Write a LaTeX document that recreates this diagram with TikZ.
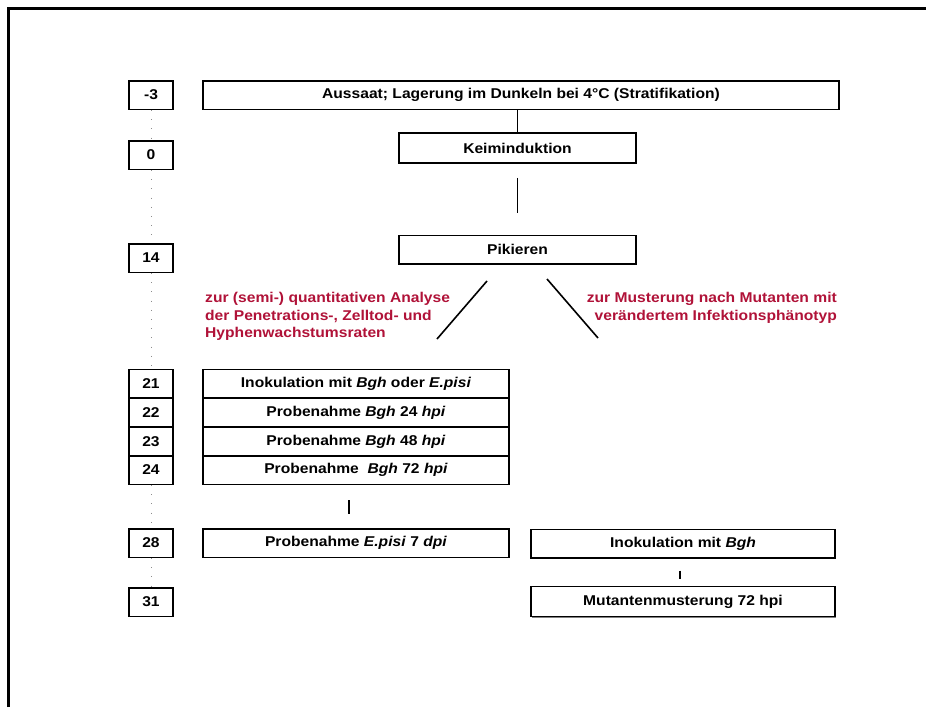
\documentclass[tikz,border=0pt]{standalone}
\usepackage{fontspec}
\setmainfont{Liberation Sans}[FakeStretch=1.1]
\usetikzlibrary{shadows}
\definecolor{noteRed}{RGB}{176,18,56}

\begin{document}
\begin{tikzpicture}[x=1pt, y=-1pt, font=\fontsize{14.2}{17}\selectfont\bfseries,
  daybox/.style={draw, line width=1.5pt, fill=white, inner sep=0pt,
    minimum width=44pt, minimum height=28.5pt,
    drop shadow={shadow xshift=1.2pt, shadow yshift=-1.2pt, fill=black!50, opacity=1}},
  stepbox/.style={daybox, minimum width=#1},
  link/.style={line width=1.6pt},
  dayline/.style={black!45, line width=0.6pt, dash pattern=on 0.7pt off 8.5pt},
  note/.style={text=noteRed, inner sep=0pt, font=\fontsize{14.2}{17.5}\selectfont\bfseries}]
  \useasboundingbox (0,0) rectangle (926,707);
  % frame
  \draw[line width=3pt] (8,707) -- (8,8) -- (926,8);
  % ---------------------------------------------------------------- days
  \node[daybox] (dm3) at (151,95)    {-3};
  \node[daybox] (d0)  at (151,155)   {0};
  \node[daybox] (d14) at (151,258)   {14};
  \node[daybox] (d21) at (151,383.5) {21};
  \node[daybox] (d22) at (151,412.5) {22};
  \node[daybox] (d23) at (151,441.5) {23};
  \node[daybox] (d24) at (151,470)   {24};
  \node[daybox] (d28) at (151,543)   {28};
  \node[daybox] (d31) at (151,602)   {31};
  \draw[dayline] (dm3) -- (d0);
  \draw[dayline] (d0) -- (d14);
  \draw[dayline] (d14) -- (d21);
  \draw[dayline] (d24) -- (d28);
  \draw[dayline] (d28) -- (d31);
  % ---------------------------------------------------------------- seeds
  \node[stepbox=636pt] (aus)  at (521,95)    {Aussaat; Lagerung im Dunkeln bei 4°C (Stratifikation)};
  \node[stepbox=237pt, minimum height=30pt] (keim) at (517.5,148) {Keiminduktion};
  \node[stepbox=237pt] (pik)  at (517.5,249.5) {Pikieren};
  \draw[link] (keim.north) -- (keim.north |- aus.south);
  \draw[link, shorten <=14pt, shorten >=22pt] (keim.south) -- (pik.north);
  % the two branches
  \coordinate (lefttop) at (487,281);
  \coordinate (leftend) at (437,339);
  \coordinate (righttop) at (547,279);
  \coordinate (rightend) at (598,338);
  \draw[link] (lefttop) -- (leftend);
  \draw[link] (righttop) -- (rightend);
  \node[note, anchor=north west, align=left] (quant) at (205,292.5)
    {zur (semi-) quantitativen Analyse\\der Penetrations-, Zelltod- und\\Hyphenwachstumsraten};
  \node[note, anchor=north east, align=right] (screen) at (837,292.5)
    {zur Musterung nach Mutanten mit\\verändertem Infektionsphänotyp};
  % ---------------------------------------------------------------- (semi-) quantitative branch
  \node[stepbox=306pt] (ino)  at (356,383.5) {Inokulation mit \textit{Bgh} oder \textit{E.pisi}};
  \node[stepbox=306pt] (p24)  at (356,412.5) {Probenahme \textit{Bgh} 24 \textit{hpi}};
  \node[stepbox=306pt] (p48)  at (356,441.5) {Probenahme \textit{Bgh} 48 \textit{hpi}};
  \node[stepbox=306pt] (p72)  at (356,470)   {Probenahme \ \textit{Bgh} 72 \textit{hpi}};
  \node[stepbox=306pt] (pep)  at (356,543)   {Probenahme \textit{E.pisi} 7 \textit{dpi}};
  \draw[link, shorten <=15pt, shorten >=14pt] ([xshift=-7pt]p72.south) -- ([xshift=-7pt]pep.north);
  % ---------------------------------------------------------------- mutant screen
  \node[stepbox=304pt] (inoR) at (683,543.5) {Inokulation mit \textit{Bgh}};
  \node[stepbox=304pt, minimum height=30pt] (mut) at (683,601.5) {Mutantenmusterung 72 hpi};
  \draw[link, shorten <=12pt, shorten >=7pt] ([xshift=-3pt]inoR.south) -- ([xshift=-3pt]mut.north);
\end{tikzpicture}
\end{document}
